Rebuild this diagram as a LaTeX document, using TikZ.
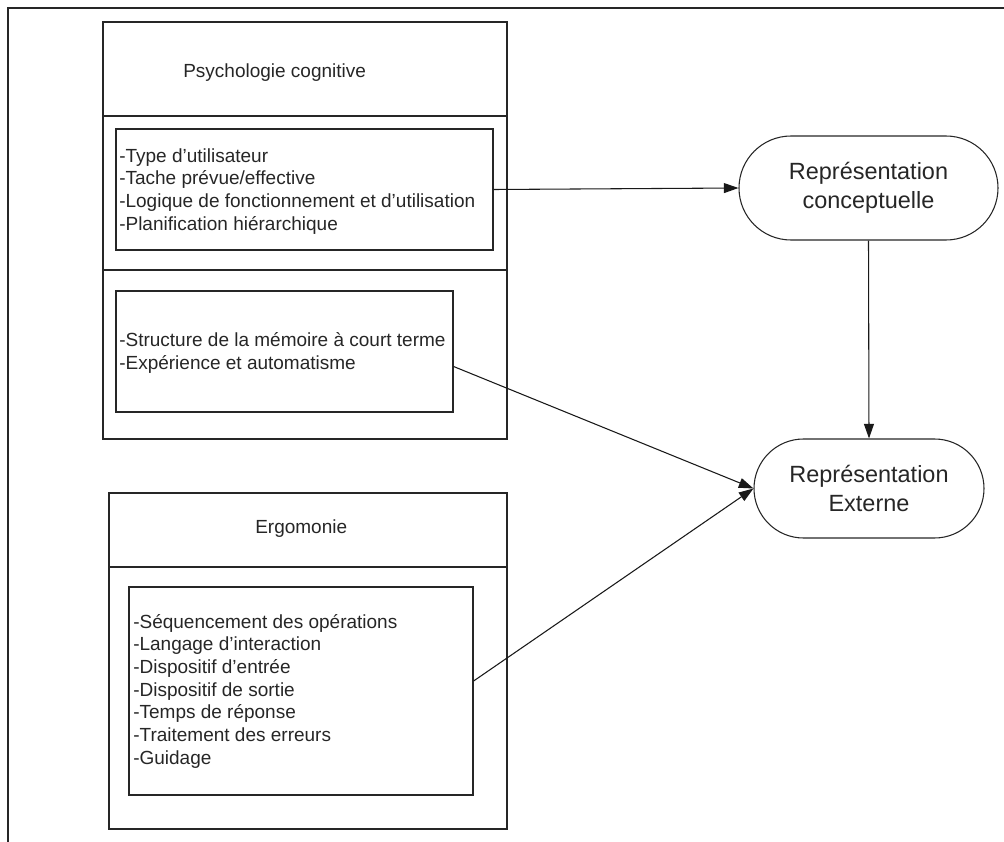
\documentclass[tikz,border=0pt]{standalone}
\usepackage{fontspec}
\setmainfont{Liberation Sans}
\usetikzlibrary{arrows.meta,shapes.misc,fit}
\begin{document}
\begin{tikzpicture}[x=0.75pt,y=-0.75pt,
  frame/.style={draw=black!85, line width=0.9pt},
  box/.style={draw=black!85, line width=0.9pt, inner sep=0pt, rectangle},
  txt/.style={text=black!85, font=\fontsize{14.25}{17}\selectfont, align=left, inner sep=0pt, anchor=base west},
  rep/.style={rounded rectangle, draw=black!85, line width=0.8pt, text=black!85, font=\fontsize{17.6}{21.4}\selectfont, align=center, inner sep=0pt},
  conn/.style={draw=black!90, line width=0.8pt, -{Triangle[length=11pt,width=7.5pt]}}]

\useasboundingbox (0,0) rectangle (1004,842);
\draw[frame] (8,842) -- (8,8) -- (1004,8);

% Psychologie cognitive group
\node[box, fit={(103,22) (507,439)}] (pc) {};
\draw[frame] (103,116) -- (507,116);
\draw[frame] (103,270) -- (507,270);
\node[box, fit={(116,129) (493,250)}] (b1) {};
\node[box, fit={(116,291) (453,412)}] (b2) {};
\node[txt] (h1) at (183,78) {Psychologie cognitive};
% anchor base = baseline of the last line
\node[txt] (t1) at (119,230) {-Type d’utilisateur\\-Tache prévue/effective\\-Logique de fonctionnement et d’utilisation\\-Planification hiérarchique};
\node[txt] (t2) at (119,369) {-Structure de la mémoire à court terme\\-Expérience et automatisme};

% Ergomonie group
\node[box, fit={(109,493) (507,829)}] (er) {};
\draw[frame] (109,567) -- (507,567);
\node[box, fit={(129,587) (473,795)}] (b3) {};
\node[txt] (h2) at (255,533) {Ergomonie};
\node[txt] (t3) at (133,764) {-Séquencement des opérations\\-Langage d’interaction\\-Dispositif d’entrée\\-Dispositif de sortie\\-Temps de réponse\\-Traitement des erreurs\\-Guidage};

% Representations
\node[rep, minimum width=194.25pt, minimum height=78pt] (rc) at (868.5,188) {Représentation\\conceptuelle};
\node[rep, minimum width=172.5pt, minimum height=74.25pt] (re) at (869,488.5) {Représentation\\Externe};

% Connectors
\draw[conn] (b1.east) -- (rc.west);
\draw[conn] (rc.south) -- (re.north);
\draw[conn] ([yshift=-11.25pt]b2.east) -- (re.west);
\draw[conn] ([yshift=7.5pt]b3.east) -- (re.west);
\end{tikzpicture}
\end{document}
